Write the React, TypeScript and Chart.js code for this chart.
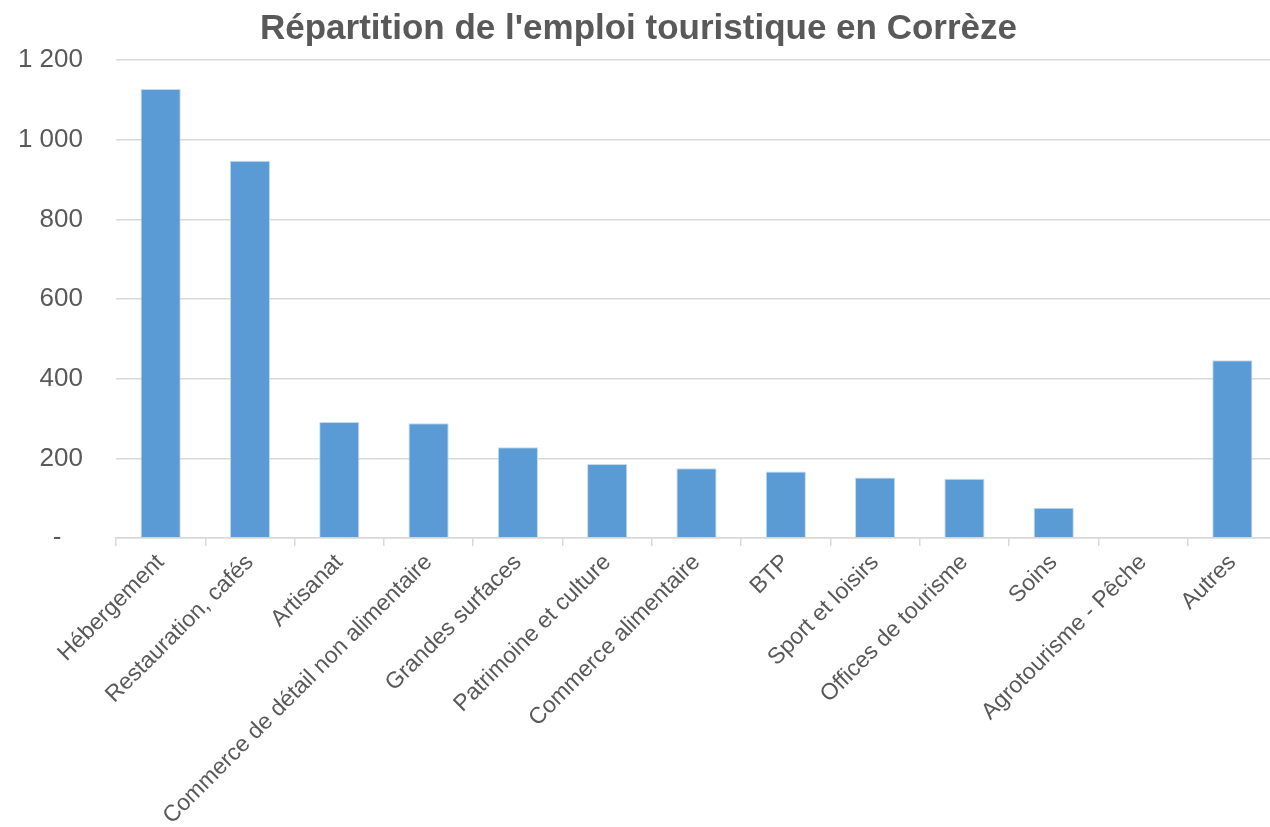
import React, { useEffect, useRef } from "react";
import { Chart, registerables } from "chart.js";

Chart.register(...registerables);

const categories = [
  "Hébergement",
  "Restauration, cafés",
  "Artisanat",
  "Commerce de détail non alimentaire",
  "Grandes surfaces",
  "Patrimoine et culture",
  "Commerce alimentaire",
  "BTP",
  "Sport et loisirs",
  "Offices de tourisme",
  "Soins",
  "Agrotourisme - Pêche",
  "Autres",
];

const emplois = [1127, 947, 291, 288, 228, 186, 175, 167, 152, 149, 76, 0, 446];

const yTicks = [0, 200, 400, 600, 800, 1000, 1200];

const titleText = "Répartition de l'emploi touristique en Corrèze";

const fmt = (v: number) => {
  if (v === 0) return "-   ";
  const s = String(Math.round(v));
  return s.replace(/\B(?=(\d{3})+(?!\d))/g, " ");
};

export default function App() {
  const ref = useRef<HTMLCanvasElement | null>(null);

  useEffect(() => {
    if (!ref.current) return;
    const textColor = "#595959";
    const gridColor = "#d9d9d9";
    const chart = new Chart(ref.current, {
      type: "bar",
      data: {
        labels: categories,
        datasets: [
          {
            data: emplois,
            backgroundColor: "#5b9bd5",
            borderColor: "rgba(189,215,238,0.9)",
            borderWidth: 1,
            categoryPercentage: 1,
            barPercentage: 0.45,
          },
        ],
      },
      options: {
        responsive: false,
        animation: false,
        layout: { padding: { left: 0, right: 3, top: 0, bottom: 0 } },
        plugins: {
          legend: { display: false },
          tooltip: { enabled: false },
          title: {
            display: true,
            text: titleText,
            color: textColor,
            font: { family: "Arial, 'Liberation Sans', sans-serif", size: 35, weight: "bold" },
            padding: { top: 8, bottom: 10 },
          },
        },
        scales: {
          x: {
            type: "category",
            afterFit: (s: any) => {
              s.height = 289;
            },
            border: { display: true, color: gridColor, width: 1.5 },
            grid: {
              display: true,
              offset: true,
              drawOnChartArea: false,
              drawTicks: true,
              tickLength: 8,
              color: gridColor,
              lineWidth: 1.5,
            },
            ticks: {
              autoSkip: false,
              maxRotation: 45,
              minRotation: 45,
              color: textColor,
              padding: 3,
              font: { family: "Arial, 'Liberation Sans', sans-serif", size: 23 },
            },
          },
          y: {
            min: 0,
            max: 1200,
            afterFit: (s: any) => {
              s.width = 116;
            },
            afterBuildTicks: (s: any) => {
              s.ticks = yTicks.map((v) => ({ value: v }));
            },
            border: { display: false },
            grid: {
              color: gridColor,
              lineWidth: 1.5,
              drawTicks: false,
            },
            ticks: {
              color: textColor,
              padding: 33,
              font: { family: "Arial, 'Liberation Sans', sans-serif", size: 26 },
              callback: (v: any) => fmt(Number(v)),
            },
          },
        },
      },
    });
    return () => chart.destroy();
  }, []);

  return (
    <div
      style={{
        position: "absolute",
        left: 0,
        top: 0,
        width: 1270,
        height: 827,
        overflow: "hidden",
        background: "#fff",
      }}
    >
      <canvas ref={ref} width={1280} height={827} style={{ display: "block" }} />
    </div>
  );
}
